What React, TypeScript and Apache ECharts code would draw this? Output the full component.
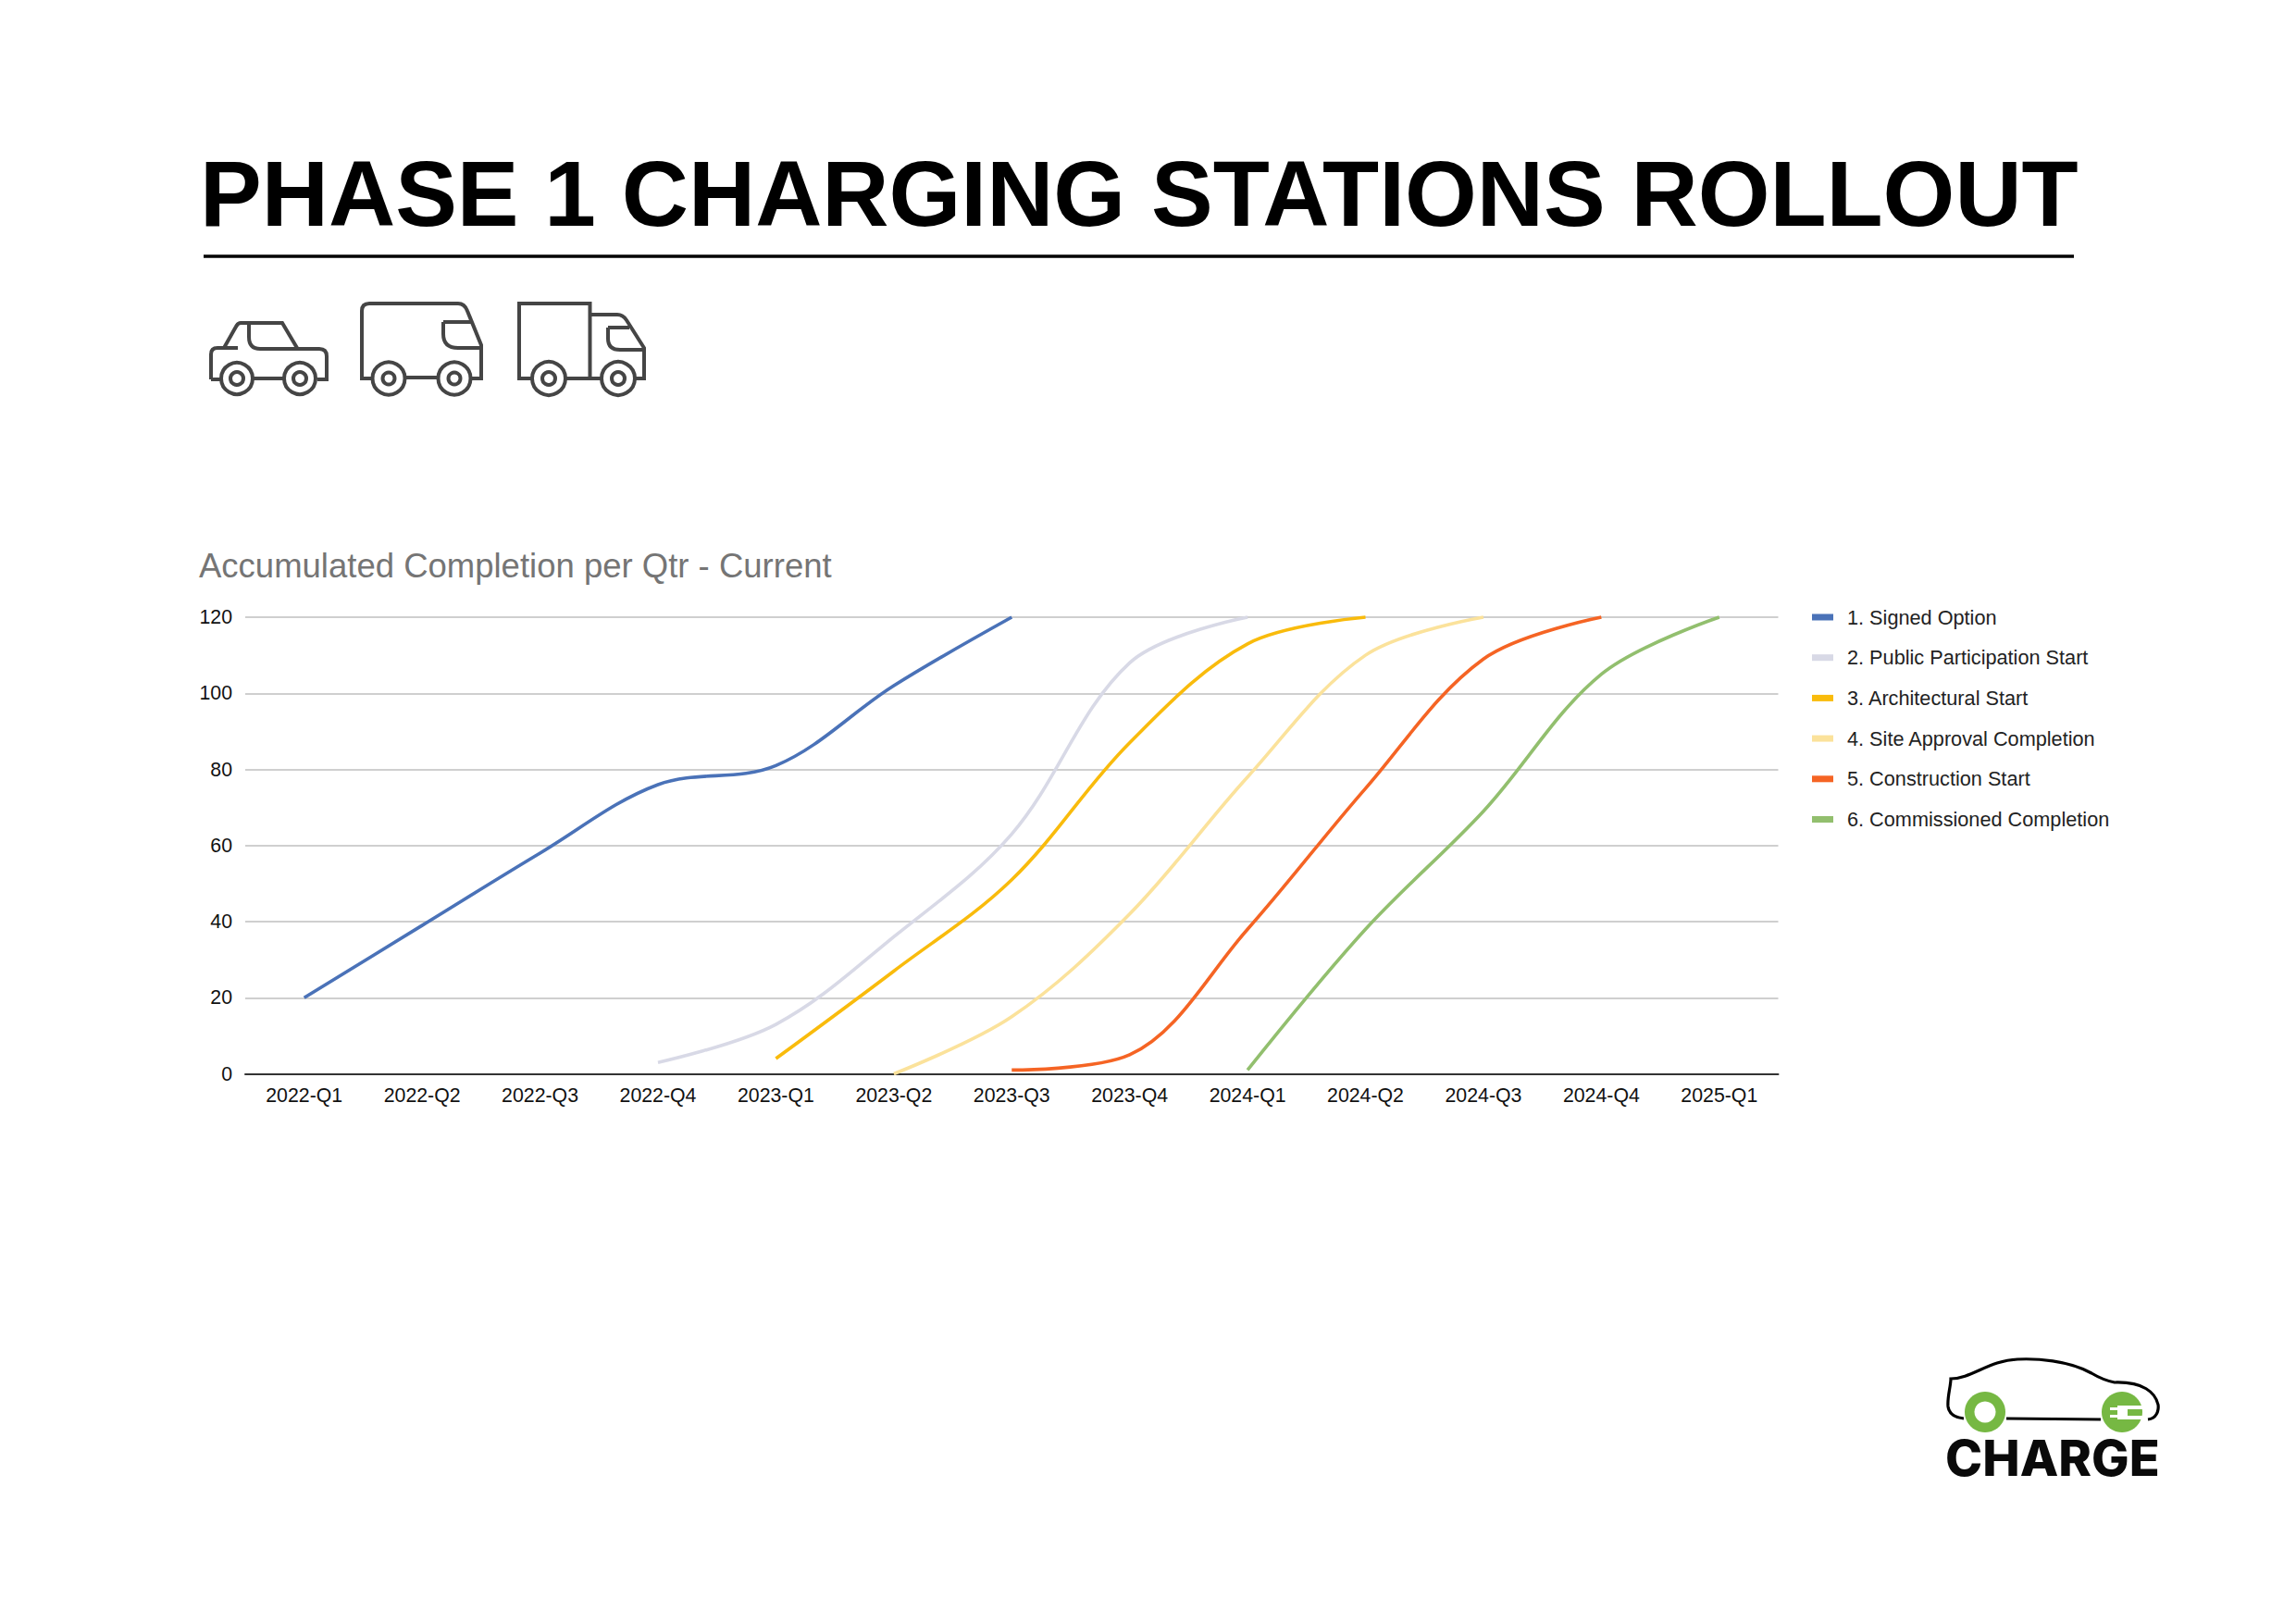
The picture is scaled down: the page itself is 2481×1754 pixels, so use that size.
import React, { useEffect, useRef } from "react";
import * as echarts from "echarts";

const categories = ["2022-Q1","2022-Q2","2022-Q3","2022-Q4","2023-Q1","2023-Q2","2023-Q3","2023-Q4","2024-Q1","2024-Q2","2024-Q3","2024-Q4","2025-Q1"];
const n = null;
const signedOption = [20, 39, 58, 76, 81, 102, 120, n, n, n, n, n, n];
const publicParticipation = [n, n, n, 3, 13, 36, 63, 108, 120, n, n, n, n];
const architectural = [n, n, n, n, 4, 27, 51, 87, 113, 120, n, n, n];
const siteApproval = [n, n, n, n, n, 0, 15, 42, 78, 110, 120, n, n];
const construction = [n, n, n, n, n, n, 1, 5, 38, 75, 109, 120, n];
const commissioned = [n, n, n, n, n, n, n, n, 1, 38, 69, 105, 120];
const seriesNames = ["1. Signed Option","2. Public Participation Start","3. Architectural Start","4. Site Approval Completion","5. Construction Start","6. Commissioned Completion"];
const seriesColors = ["#4a72b8","#d8d9e6","#f9bb0c","#fbe29b","#f56424","#92bf6e"];
const seriesValues = [signedOption, publicParticipation, architectural, siteApproval, construction, commissioned];

const FONT = '"Liberation Sans", Arial, sans-serif';

const carPath = "M28 269V242Q28 235 35 235H57M42 235L55 212Q57 208 60 208H105L121 235M69 209V223Q69 236 81 236H145Q153 236 153 244V269H143M107 268H74M39 269H28";
const vanPath = "M202 268H191V195Q191 187 199 187H295Q302 187 305 195L320 232V268H309M273 267H238M279 207H310M279 207V220Q279 235 295 235H320";
const truckPath = "M375 268H361V187H437.5V268M411 268H450M438 199H467Q473 199 477 205L496 235V268H487M457 213H480M457 213V225Q457 237 470 237H496";
const logoCarPath = "M42 93C32 92 26 88 25 80C24 70 28 58 28 50C50 50 70 30 100 29C120 28 155 30 180 44C190 50 195 52 205 54C236 53 249 65 252 78C253 85 250 93 241 94M88 93L190 94";
const plugPath = "M200 81H208V79H237V83H219V90H237V94H208V92H200V89H208V84H200Z";

echarts.graphic.registerShape("iconCar", echarts.graphic.extendPath(carPath, {}));
echarts.graphic.registerShape("iconVan", echarts.graphic.extendPath(vanPath, {}));
echarts.graphic.registerShape("iconTruck", echarts.graphic.extendPath(truckPath, {}));
echarts.graphic.registerShape("logoCar", echarts.graphic.extendPath(logoCarPath, {}));
echarts.graphic.registerShape("logoPlug", echarts.graphic.extendPath(plugPath, {}));

const iconStroke = { stroke: "#454545", lineWidth: 4, fill: "none" };
const wheel = (cx: number, cy: number, r: number, ir: number) => [
  { type: "circle", shape: { cx, cy, r }, style: { stroke: "#454545", lineWidth: 4, fill: "#fff" } },
  { type: "circle", shape: { cx, cy, r: ir }, style: { stroke: "#454545", lineWidth: 4, fill: "#fff" } },
];

export default function App() {
  const ref = useRef<HTMLDivElement>(null);
  useEffect(() => {
    document.body.style.margin = "0";
    const chart = echarts.init(ref.current!, null, { renderer: "svg" });
    chart.setOption({
      animation: false,
      backgroundColor: "#fff",
      legend: {
        orient: "vertical",
        left: 1953,
        top: 650,
        icon: "rect",
        itemWidth: 23,
        itemHeight: 7,
        itemGap: 19.7,
        selectedMode: false,
        textStyle: { fontFamily: FONT, fontSize: 21.7, color: "#222", padding: [0, 0, 0, 10], lineHeight: 24 },
        data: seriesNames,
      },
      grid: { left: 265, right: 559.5, top: 667, bottom: 593.5 },
      xAxis: {
        type: "category",
        data: categories,
        boundaryGap: true,
        axisTick: { show: false },
        axisLine: { lineStyle: { color: "#333", width: 2 } },
        axisLabel: { fontFamily: FONT, fontSize: 21.3, color: "#111", margin: 13, interval: 0 },
      },
      yAxis: {
        type: "value",
        min: 0,
        max: 120,
        interval: 20,
        axisLine: { show: false },
        axisTick: { show: false },
        splitLine: { lineStyle: { color: "#cfcfcf", width: 2 } },
        axisLabel: { fontFamily: FONT, fontSize: 21.3, color: "#111", margin: 14 },
      },
      series: seriesValues.map((data, i) => ({
        name: seriesNames[i],
        type: "line",
        data,
        smooth: 0.35,
        showSymbol: false,
        clip: false,
        itemStyle: { color: seriesColors[i] },
        lineStyle: { color: seriesColors[i], width: 3.6 },
      })),
      graphic: [
        { type: "text", x: 216, y: 159, style: { text: "PHASE 1 CHARGING STATIONS ROLLOUT", fontFamily: FONT, fontWeight: "bold", fontSize: 100, fill: "#000", textVerticalAlign: "top" } },
        { type: "line", shape: { x1: 220, y1: 277, x2: 2241, y2: 277 }, style: { stroke: "#000", lineWidth: 3.5 } },
        { type: "text", x: 215, y: 611, style: { text: "Accumulated Completion per Qtr - Current", fontFamily: FONT, fontSize: 36.5, fill: "#757575", textVerticalAlign: "middle" } },
        {
          type: "group", x: 200, y: 141,
          children: [
            { type: "iconCar", style: iconStroke },
            { type: "iconVan", style: iconStroke },
            { type: "iconTruck", style: iconStroke },
            ...wheel(56, 268, 17, 7),
            ...wheel(124, 268, 17, 7),
            ...wheel(220, 268, 17.5, 6.5),
            ...wheel(291, 268, 17.5, 6.5),
            ...wheel(393, 268, 18, 7),
            ...wheel(468, 268, 18, 7),
          ],
        },
        {
          type: "group", x: 2080, y: 1440,
          children: [
            { type: "logoCar", style: { stroke: "#000", lineWidth: 3.2, fill: "none" } },
            { type: "circle", shape: { cx: 65, cy: 86, r: 22 }, style: { fill: "#76b843" } },
            { type: "circle", shape: { cx: 65, cy: 86, r: 11.5 }, style: { fill: "#fff" } },
            { type: "circle", shape: { cx: 213, cy: 86, r: 22 }, style: { fill: "#76b843" } },
            { type: "logoPlug", style: { fill: "#fff" } },
            { type: "text", x: 22, y: 136, scaleX: 1.02, style: { text: "CHARGE", fontFamily: "Inter, Lato, sans-serif", fontWeight: 800, fontSize: 53, fill: "#0a0a0a", textVerticalAlign: "middle" } },
          ],
        },
      ],
    });
    return () => chart.dispose();
  }, []);
  return <div ref={ref} style={{ position: "absolute", left: 0, top: 0, width: 2481, height: 1754 }} />;
}
